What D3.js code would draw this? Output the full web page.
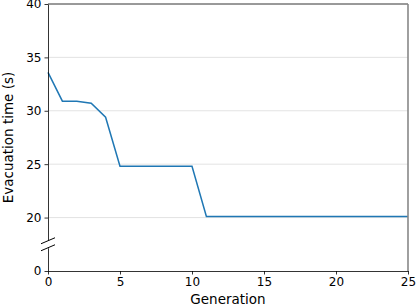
<!DOCTYPE html>
<html>
<head>
<meta charset="utf-8">
<script src="https://cdn.jsdelivr.net/npm/d3@7"></script>
<style>
    body { margin: 0; background: #fff; }
    text { font-family: "DejaVu Sans", sans-serif; fill: #000; }
</style>
</head>
<body>
<div id="chart"></div>
<script>
const generations = d3.range(0, 26);
const evacTimes = [33.6, 30.9, 30.9, 30.7, 29.4, 24.8, 24.8, 24.8, 24.8, 24.8, 24.8,
    20.1, 20.1, 20.1, 20.1, 20.1, 20.1, 20.1, 20.1, 20.1, 20.1, 20.1, 20.1, 20.1, 20.1, 20.1];
const xTicks = [0, 5, 10, 15, 20, 25];
const yTicks = [0, 20, 25, 30, 35, 40];
const gridTicks = [20, 25, 30, 35];

const width = 416, height = 306;
const margin = { top: 4, right: 8, bottom: 35, left: 48 };

const svg = d3.select("#chart").append("svg")
    .attr("width", width)
    .attr("height", height);

const xScale = d3.scaleLinear()
    .domain([0, 25])
    .range([margin.left, width - margin.right]);

// broken axis: 0 sits just under the break, then 17.5..40 linear
const yScale = d3.scaleLinear()
    .domain([0, 17.5, 40])
    .range([height - margin.bottom, height - margin.bottom - 26.75, margin.top]);

// grid
svg.append("g")
    .selectAll("line")
    .data(gridTicks)
    .enter()
    .append("line")
    .attr("x1", margin.left)
    .attr("x2", width - margin.right)
    .attr("y1", d => yScale(d))
    .attr("y2", d => yScale(d))
    .attr("stroke", "#dcdcdc")
    .attr("stroke-width", 0.8);

// line
const line = d3.line()
    .x((d, i) => xScale(generations[i]))
    .y(d => yScale(d));

svg.append("path")
    .datum(evacTimes)
    .attr("d", line)
    .attr("fill", "none")
    .attr("stroke", "#1f77b4")
    .attr("stroke-width", 1.5);

// spines
svg.append("line")
    .attr("x1", margin.left).attr("x2", width - margin.right)
    .attr("y1", margin.top).attr("y2", margin.top)
    .attr("stroke", "#000").attr("stroke-width", 0.8);
svg.append("line")
    .attr("x1", width - margin.right).attr("x2", width - margin.right)
    .attr("y1", margin.top).attr("y2", height - margin.bottom)
    .attr("stroke", "#888").attr("stroke-width", 1.6);

const xAxis = d3.axisBottom(xScale)
    .tickValues(xTicks)
    .tickSize(3.5)
    .tickPadding(3)
    .tickSizeOuter(0);

const yAxis = d3.axisLeft(yScale)
    .tickValues(yTicks)
    .tickSize(3.5)
    .tickPadding(3)
    .tickSizeOuter(0);

const xAxisEl = svg.append("g")
    .attr("transform", `translate(0, ${height - margin.bottom})`)
    .call(xAxis);

const yAxisEl = svg.append("g")
    .attr("transform", `translate(${margin.left}, 0)`)
    .call(yAxis);

[xAxisEl, yAxisEl].forEach(g => {
    g.selectAll("path, line").attr("stroke", "#000").attr("stroke-width", 0.8);
    g.selectAll("text").style("font-size", "12px").style("font-family", "DejaVu Sans");
});

// break marks on the left spine
const breakY = yScale(17.5);
const br = svg.append("g");
br.append("rect")
    .attr("x", margin.left - 2).attr("y", breakY - 4)
    .attr("width", 4).attr("height", 8)
    .attr("fill", "#fff");
[-3.5, 3.5].forEach(off => {
    br.append("line")
        .attr("x1", margin.left - 7).attr("y1", breakY + off + 3)
        .attr("x2", margin.left + 7).attr("y2", breakY + off - 3)
        .attr("stroke", "#000").attr("stroke-width", 1);
});

// axis labels
svg.append("text")
    .text("Generation")
    .attr("x", (margin.left + width - margin.right) / 2)
    .attr("y", height - 2)
    .style("font-size", "13.5px")
    .style("text-anchor", "middle");

svg.append("text")
    .text("Evacuation time (s)")
    .attr("transform", "rotate(-90)")
    .attr("x", -(margin.top + height - margin.bottom) / 2)
    .attr("y", 13)
    .style("font-size", "13.5px")
    .style("text-anchor", "middle");
</script>
</body>
</html>
